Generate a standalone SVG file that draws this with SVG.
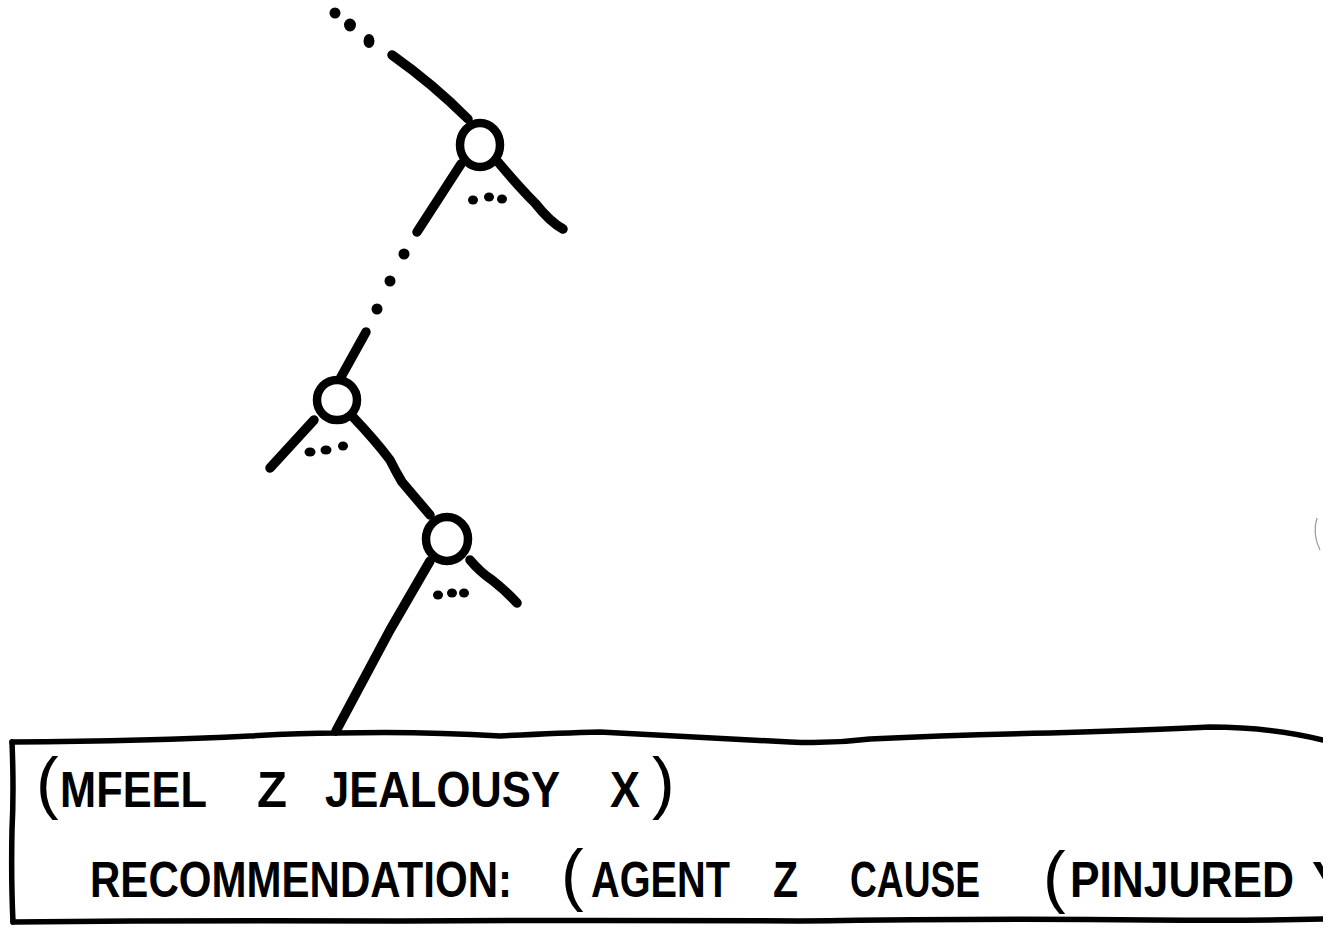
<svg xmlns="http://www.w3.org/2000/svg" width="1342" height="932" viewBox="0 0 1342 932">
  <defs>
    <style>
      .edge { fill: none; stroke: #000; stroke-width: 9.5; stroke-linecap: round; stroke-linejoin: round; }
      .node { fill: #fff; stroke: #000; stroke-width: 8.5; }
      .dot { fill: #000; }
      .frame { fill: none; stroke: #000; stroke-width: 5.5; stroke-linecap: round; stroke-linejoin: round; }
      .t { font-family: "Liberation Sans", "DejaVu Sans", sans-serif; font-weight: bold; font-size: 50px; fill: #000; }
      .p { font-family: "Liberation Sans", "DejaVu Sans", sans-serif; font-size: 68px; fill: #000; }
    </style>
    <clipPath id="pageclip"><rect x="0" y="0" width="1323" height="932"/></clipPath>
  </defs>
  <rect x="0" y="0" width="1342" height="932" fill="#fff"/>

  <g id="connectors">
    <!-- incoming dotted chain to top node -->
    <ellipse class="dot" cx="335" cy="13" rx="5.5" ry="5.5"/>
    <ellipse class="dot" cx="350" cy="25" rx="6" ry="6.5"/>
    <ellipse class="dot" cx="369" cy="41" rx="5.5" ry="7"/>
    <path class="edge" d="M392,55 Q433,84 468,119"/>
    <!-- node A children -->
    <path class="edge" d="M461,164 L417,232"/>
    <path class="edge" d="M498,162 Q520,188 535,203 Q550,222 563,229"/>
    <!-- dotted chain A -> B -->
    <circle class="dot" cx="404" cy="254" r="5.5"/>
    <circle class="dot" cx="390" cy="281" r="5.5"/>
    <circle class="dot" cx="377" cy="309" r="5.5"/>
    <path class="edge" d="M366,332 L341,377"/>
    <!-- node B children -->
    <path class="edge" d="M314,420 L270,468"/>
    <path class="edge" d="M353,417 Q375,440 390,460 Q396,472 402,482 L430,515"/>
    <!-- node C children -->
    <path class="edge" d="M430,561 L390,630 L336,731"/>
    <path class="edge" d="M470,560 Q480,572 492,580 Q505,590 517,603"/>
  </g>

  <g id="node-a">
    <ellipse class="node" cx="480" cy="145" rx="20" ry="22"/>
    <ellipse class="dot" cx="473" cy="200" rx="5" ry="4.5"/>
    <ellipse class="dot" cx="489" cy="197" rx="5" ry="4.5"/>
    <ellipse class="dot" cx="502" cy="199" rx="5" ry="4.5"/>
  </g>

  <g id="node-b">
    <ellipse class="node" cx="337" cy="400" rx="20" ry="20"/>
    <ellipse class="dot" cx="310" cy="452" rx="5.5" ry="4.5"/>
    <ellipse class="dot" cx="326" cy="450" rx="5.5" ry="4.5"/>
    <ellipse class="dot" cx="343" cy="446" rx="5" ry="4.5"/>
  </g>

  <g id="node-c">
    <ellipse class="node" cx="447" cy="539" rx="21" ry="22"/>
    <ellipse class="dot" cx="438" cy="595" rx="5" ry="4.5"/>
    <ellipse class="dot" cx="452" cy="593" rx="5" ry="4.5"/>
    <ellipse class="dot" cx="464" cy="593" rx="5" ry="4.5"/>
  </g>

  <g id="box" clip-path="url(#pageclip)">
    <path class="frame" d="M12,742 Q150,741 250,736 Q300,733 337,733 Q420,731 500,736 Q560,733 600,732 Q700,737 790,742 Q830,744 870,739 Q950,735 1050,733 Q1150,730 1210,727 Q1270,727 1323,740"/>
    <path class="frame" d="M12,742 Q14,790 12,830 Q11,880 13,922"/>
    <path class="frame" d="M13,922 Q200,920 400,921 Q600,920 800,921 Q1000,918 1150,920 Q1250,921 1323,919"/>
    <text class="p" x="36" y="806">(</text>
    <text class="t" x="60" y="807" textLength="147" lengthAdjust="spacingAndGlyphs">MFEEL</text>
    <text class="t" x="257" y="807" textLength="30" lengthAdjust="spacingAndGlyphs">Z</text>
    <text class="t" x="325" y="807" textLength="235" lengthAdjust="spacingAndGlyphs">JEALOUSY</text>
    <text class="t" x="610" y="807" textLength="30" lengthAdjust="spacingAndGlyphs">X</text>
    <text class="p" x="652" y="806">)</text>

    <text class="t" x="90" y="897" textLength="422" lengthAdjust="spacingAndGlyphs">RECOMMENDATION:</text>
    <text class="p" x="561" y="898">(</text>
    <text class="t" x="591" y="897" textLength="139" lengthAdjust="spacingAndGlyphs">AGENT</text>
    <text class="t" x="773" y="897" textLength="25" lengthAdjust="spacingAndGlyphs">Z</text>
    <text class="t" x="850" y="897" textLength="130" lengthAdjust="spacingAndGlyphs">CAUSE</text>
    <text class="p" x="1043" y="900">(</text>
    <text class="t" x="1070" y="897" textLength="224" lengthAdjust="spacingAndGlyphs">PINJURED</text>
    <text class="t" x="1312" y="897">Y</text>
  </g>

  <path d="M1317,518 Q1312,534 1320,550" fill="none" stroke="#999" stroke-width="1.2"/>
</svg>
